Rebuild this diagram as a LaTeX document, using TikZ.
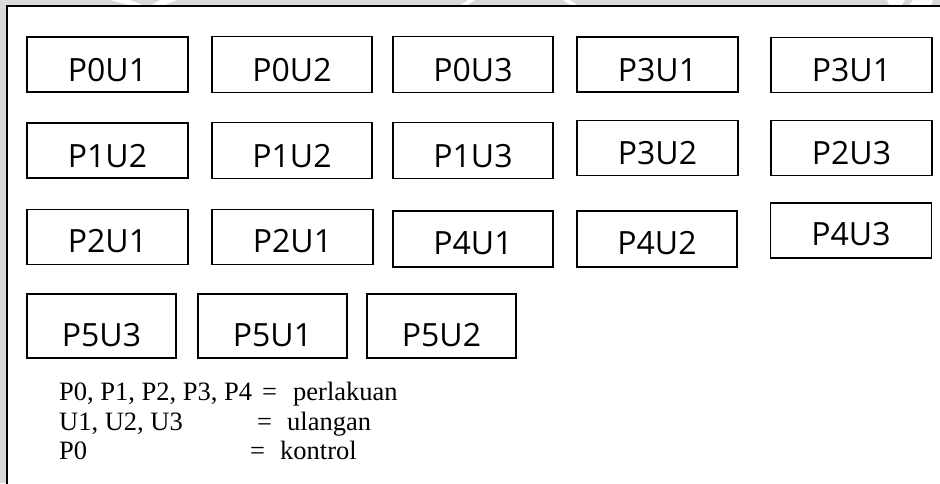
\documentclass[tikz,border=0pt]{standalone}
\usepackage{fontspec}
\setmainfont{Liberation Serif}
\newfontfamily\cellfont{Open Sans}
\begin{document}
\begin{tikzpicture}[x=1pt,y=-1pt,
  cell/.style={draw=black,line width=1.3pt,rectangle,inner sep=0pt,
    font=\cellfont\fontsize{32}{36}\selectfont,text height=33pt,text depth=0pt},
  cellA/.style={cell,minimum width=161pt,minimum height=55pt},
  cellB/.style={cell,minimum width=160pt,minimum height=56pt},
  cellC/.style={cell,minimum width=149pt,minimum height=64pt,text height=41pt},
  legend/.style={anchor=base west,inner sep=0pt,font=\fontsize{26.5}{30}\selectfont},
  frameline/.style={line width=2pt,fill=white}]
  % page background with light marks along the top edge
  \fill[black!15] (0,0) rectangle (940,483);
  \useasboundingbox (0,0) rectangle (940,483);
  \fill[white] (110,0) -- (130,0) -- (148,7) -- (160,0) -- (177,0) -- (160,7) -- (136,7) -- cycle;
  \fill[white] (468,0) -- (475,0) -- (465,7) -- (458,7) -- cycle;
  \fill[white] (563,0) -- (570,0) -- (580,7) -- (573,7) -- cycle;
  \fill[white] (887,0) -- (905,0) -- (900,7) -- (890,7) -- cycle;
  \fill[white] (913,0) -- (933,0) -- (930,7) -- (908,7) -- cycle;
  % outer frame, running off the right and bottom edges
  \draw[frameline] (6.5,6) rectangle (950,495);

  % row 1
  \node[cellA] (r1c1) at (107.5,64.5) {P0U1};
  \node[cellB] (r1c2) at (292,64.5)   {P0U2};
  \node[cellB] (r1c3) at (473,64.5)   {P0U3};
  \node[cellA] (r1c4) at (657.5,64.5) {P3U1};
  \node[cellA] (r1c5) at (851.5,65)   {P3U1};
  % row 2
  \node[cellA] (r2c1) at (107.5,150.5) {P1U2};
  \node[cellB] (r2c2) at (292,150.5)   {P1U2};
  \node[cellB] (r2c3) at (473,150.5)   {P1U3};
  \node[cellA] (r2c4) at (657.5,148)   {P3U2};
  \node[cellA] (r2c5) at (851.5,148)   {P2U3};
  % row 3
  \node[cellA,text height=30pt] (r3c1) at (107.5,237) {P2U1};
  \node[cellA,text height=30pt] (r3c2) at (292.5,237) {P2U1};
  \node[cellB,text height=30pt] (r3c3) at (473,239)   {P4U1};
  \node[cellB,text height=30pt] (r3c4) at (657,239)   {P4U2};
  \node[cellA,text height=30pt] (r3c5) at (851,230.5) {P4U3};
  % row 4
  \node[cellC] (r4c1) at (101.5,326) {P5U3};
  \node[cellC] (r4c2) at (272.5,326) {P5U1};
  \node[cellC] (r4c3) at (441.5,326) {P5U2};

  % key
  \node[legend] (k1a) at (59,400)  {P0, P1, P2, P3, P4};
  \node[legend] (k1b) at (262,400) {=};
  \node[legend] (k1c) at (293,400) {perlakuan};
  \node[legend] (k2a) at (59,430)  {U1, U2, U3};
  \node[legend] (k2b) at (257,430) {=};
  \node[legend] (k2c) at (287,430) {ulangan};
  \node[legend] (k3a) at (59,459)  {P0};
  \node[legend] (k3b) at (250,459) {=};
  \node[legend] (k3c) at (280,459) {kontrol};
\end{tikzpicture}
\end{document}
